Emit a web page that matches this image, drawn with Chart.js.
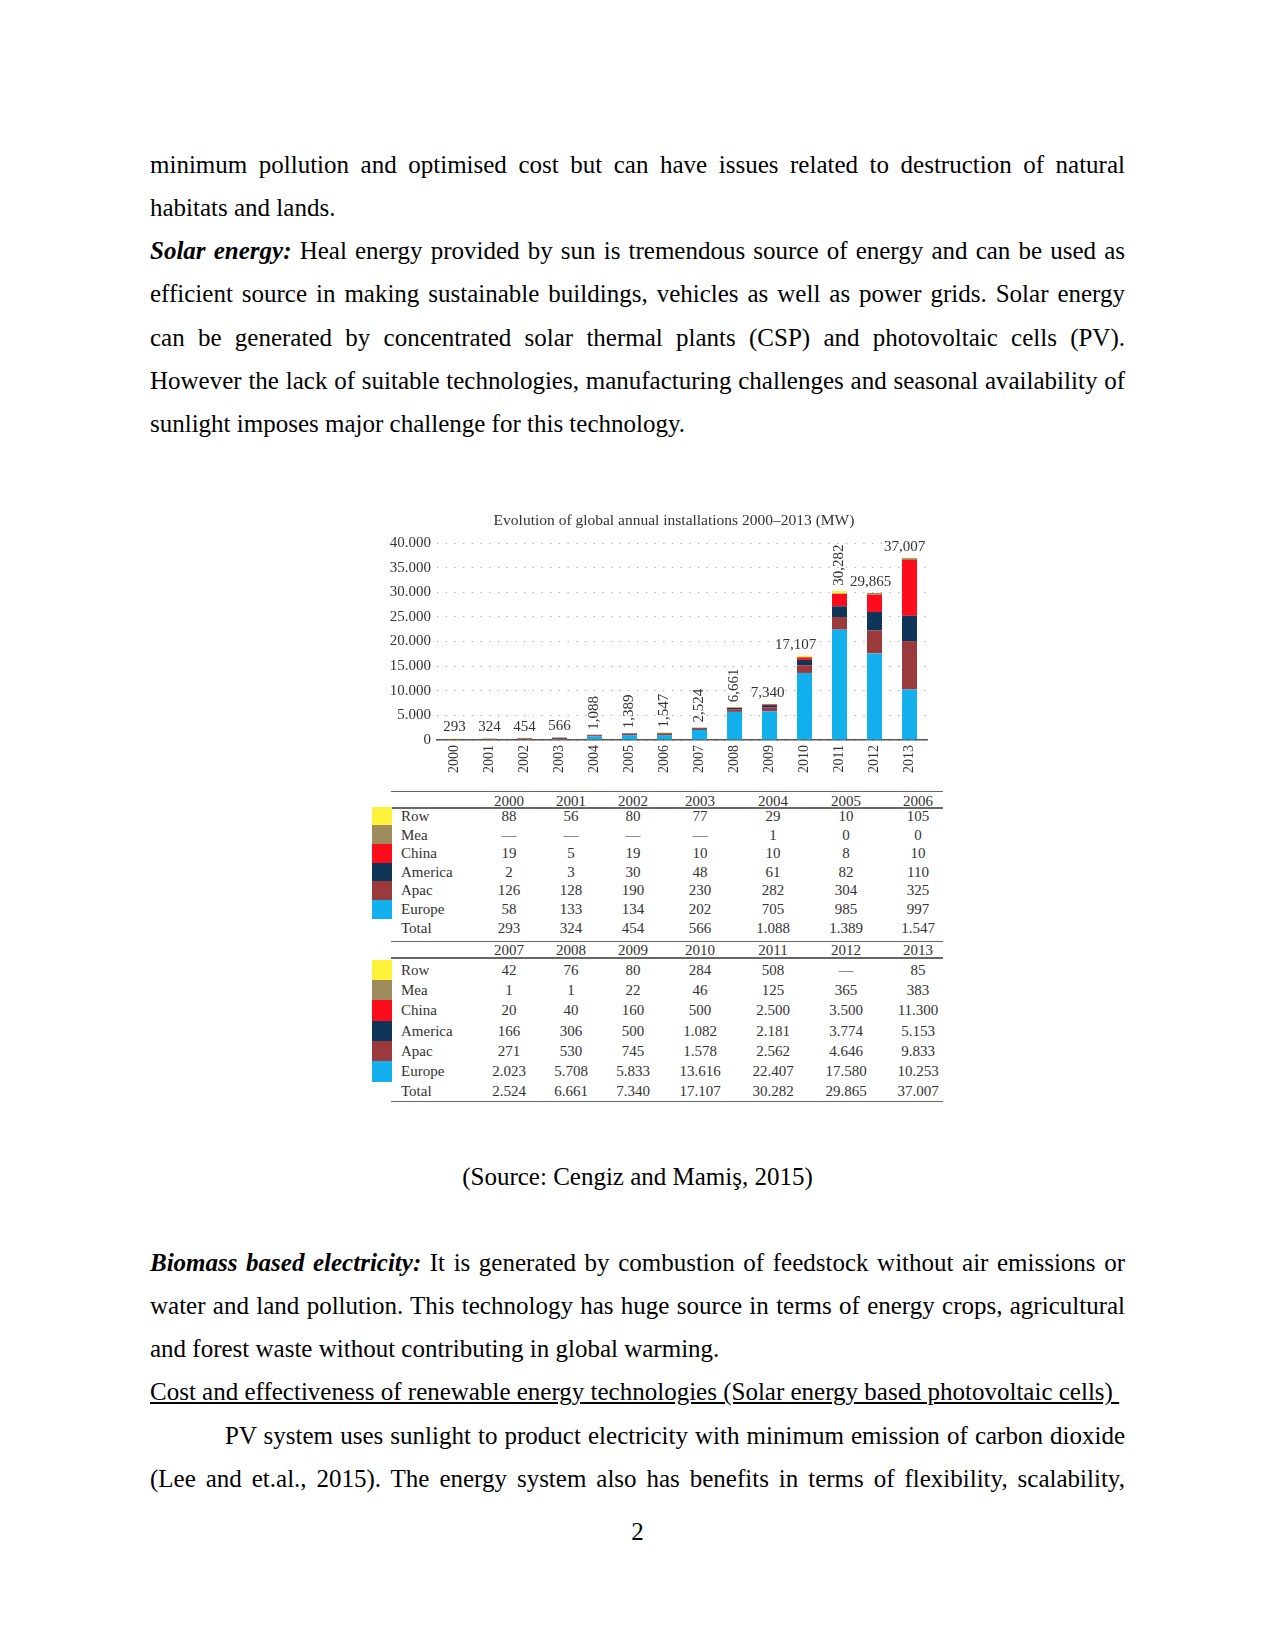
<!DOCTYPE html>
<html>
<head>
<meta charset="utf-8">
<script src="https://cdn.jsdelivr.net/npm/chart.js@4.4.0/dist/chart.umd.min.js"></script>
<style>
  body { margin: 0; background: #fff; }
  #page { position: relative; width: 1275px; height: 1651px; background: #fff; font-family: "Liberation Serif", "Times New Roman", serif; color: #000; }
  .txt { position: absolute; left: 150px; width: 975px; font-size: 25px; line-height: 43.17px; }
  .ln { height: 43.17px; white-space: nowrap; }
  .j { text-align: justify; text-align-last: justify; white-space: normal; }
  .cap { position: absolute; left: 0; width: 1275px; text-align: center; font-size: 25px; line-height: 43.17px; }
  #grafic { position: absolute; left: 374px; top: 505px; }
  .cell { position: absolute; font-size: 15px; color: #333; line-height: 16px; white-space: nowrap; }
  .rule { position: absolute; left: 391px; width: 552px; background: #666; }
  .sw { position: absolute; left: 372px; width: 20px; }
</style>
</head>
<body>
<div id="page">
  <div class="txt" style="top:143px">
    <div class="ln j">minimum pollution and optimised cost but can have issues related to destruction of natural</div>
    <div class="ln">habitats and lands.</div>
    <div class="ln j"><b><i>Solar energy:</i></b> Heal energy provided by sun is tremendous source of energy and can be used as</div>
    <div class="ln j">efficient source in making sustainable buildings, vehicles as well as power grids. Solar energy</div>
    <div class="ln j">can be generated by concentrated solar thermal plants (CSP) and photovoltaic cells (PV).</div>
    <div class="ln j">However the lack of suitable technologies, manufacturing challenges and seasonal availability of</div>
    <div class="ln">sunlight imposes major challenge for this technology.</div>
  </div>

  <canvas id="grafic" width="570" height="285"></canvas>
  <div id="tabela"></div>

  <div class="cap" style="top:1155px">(Source: Cengiz and Mamiş, 2015)</div>

  <div class="txt" style="top:1241px">
    <div class="ln j"><b><i>Biomass based electricity:</i></b> It is generated by combustion of feedstock without air emissions or</div>
    <div class="ln j">water and land pollution. This technology has huge source in terms of energy crops, agricultural</div>
    <div class="ln">and forest waste without contributing in global warming.</div>
    <div class="ln"><u>Cost and effectiveness of renewable energy technologies (Solar energy based photovoltaic cells)&nbsp;</u></div>
    <div class="ln j" style="padding-left:75px">PV system uses sunlight to product electricity with minimum emission of carbon dioxide</div>
    <div class="ln j">(Lee and et.al., 2015). The energy system also has benefits in terms of flexibility, scalability,</div>
  </div>

  <div class="cap" style="top:1510px">2</div>
</div>

<script>
// dados (MW)
const anos = ['2000','2001','2002','2003','2004','2005','2006','2007','2008','2009','2010','2011','2012','2013']
const row     = [88, 56, 80, 77, 29, 10, 105, 42, 76, 80, 284, 508, null, 85]
const mea     = [null, null, null, null, 1, 0, 0, 1, 1, 22, 46, 125, 365, 383]
const china   = [19, 5, 19, 10, 10, 8, 10, 20, 40, 160, 500, 2500, 3500, 11300]
const america = [2, 3, 30, 48, 61, 82, 110, 166, 306, 500, 1082, 2181, 3774, 5153]
const apac    = [126, 128, 190, 230, 282, 304, 325, 271, 530, 745, 1578, 2562, 4646, 9833]
const europe  = [58, 133, 134, 202, 705, 985, 997, 2023, 5708, 5833, 13616, 22407, 17580, 10253]
const totais  = [293, 324, 454, 566, 1088, 1389, 1547, 2524, 6661, 7340, 17107, 30282, 29865, 37007]
const yTicks  = [0, 5000, 10000, 15000, 20000, 25000, 30000, 35000, 40000]
const titulo  = 'Evolution of global annual installations 2000–2013 (MW)'

const cores = {
    Row: '#fff23a', Mea: '#9e8b5c', China: '#fd0d1b',
    America: '#0f3659', Apac: '#9b3a3d', Europe: '#12b0ec'
}

// como cada total aparece sobre a barra: h = horizontal, r = vertical
const rotuloModo = ['h','h','h','h','r','r','r','r','r','h','h','r','h','h']
const rotuloDx   = [0, 0, 0, 0, 0, 0, 0, 0, 0, -2, -9, 0, -4, -5]

const fonte = '"Liberation Serif", "Times New Roman", serif'

function milPonto(n) {
    if (n === null) return '—'
    return String(n).replace(/\B(?=(\d{3})+(?!\d))/g, '.')
}
function milVirgula(n) {
    return String(n).replace(/\B(?=(\d{3})+(?!\d))/g, ',')
}

/* --------- título e rótulos dos totais --------- */
const rotulosTotais = {
    id: 'rotulosTotais',
    afterDatasetsDraw(chart) {
        const ctx = chart.ctx
        const xs = chart.scales.x, ys = chart.scales.y
        const area = chart.chartArea
        ctx.save()
        ctx.fillStyle = '#333'

        // título (um pouco à esquerda do centro da área, como no original)
        ctx.font = '15.5px ' + fonte
        ctx.textAlign = 'center'
        ctx.textBaseline = 'middle'
        ctx.fillText(titulo, (area.left + area.right) / 2 - 8, 16)

        ctx.font = '15px ' + fonte
        totais.forEach((t, i) => {
            const x = xs.getPixelForValue(i) + rotuloDx[i]
            const topo = ys.getPixelForValue(t)
            if (rotuloModo[i] === 'r') {
                ctx.save()
                ctx.translate(x, topo - 5)
                ctx.rotate(-Math.PI / 2)
                ctx.textAlign = 'left'
                ctx.textBaseline = 'middle'
                ctx.fillText(milVirgula(t), 0, 0)
                ctx.restore()
            } else {
                ctx.textAlign = 'center'
                ctx.textBaseline = 'middle'
                ctx.fillText(milVirgula(t), x, topo - 11)
            }
        })
        ctx.restore()
    }
}

/* --------- gráfico --------- */
function criarGrafico() {
    const ctx = document.getElementById('grafic').getContext('2d')
    Chart.defaults.font.family = fonte
    Chart.defaults.color = '#333'

    const series = [
        ['Europe', europe], ['Apac', apac], ['America', america],
        ['China', china], ['Mea', mea], ['Row', row]
    ]

    new Chart(ctx, {
        type: 'bar',
        data: {
            labels: anos,
            datasets: series.map(([nome, v]) => ({
                label: nome,
                data: v,
                backgroundColor: cores[nome],
                borderWidth: 0,
                barPercentage: 0.43,
                categoryPercentage: 1.0
            }))
        },
        options: {
            responsive: false,
            animation: false,
            layout: { padding: { left: 0, right: 17, top: 38, bottom: 0 } },
            plugins: {
                legend: { display: false },
                tooltip: { enabled: false },
                title: { display: false }
            },
            scales: {
                x: {
                    stacked: true,
                    grid: { display: false, drawTicks: false },
                    border: { display: true, color: '#555', width: 1.5 },
                    ticks: { minRotation: 90, maxRotation: 90, padding: 5, font: { size: 14 }, color: '#333' },
                    afterFit: (s) => { s.height = 50 }
                },
                y: {
                    stacked: true,
                    min: 0,
                    max: 40000,
                    afterBuildTicks: (s) => { s.ticks = yTicks.map(v => ({ value: v })) },
                    grid: { color: '#aaa', lineWidth: 1, drawTicks: false },
                    border: { display: false, dash: [1.3, 7.4] },
                    ticks: {
                        padding: 6,
                        font: { size: 15 },
                        color: '#333',
                        callback: (v) => milPonto(v)
                    },
                    afterFit: (s) => { s.width = 63 }
                }
            }
        },
        plugins: [rotulosTotais]
    })
}

/* --------- tabela --------- */
const colX = [509, 571, 633, 700, 773, 846, 918]   // centros das colunas
const linhasTabela = [
    ['Row', row], ['Mea', mea], ['China', china], ['America', america],
    ['Apac', apac], ['Europe', europe], ['Total', totais]
]

function criarTabela() {
    const tab = document.getElementById('tabela')
    const blocos = [
        { ini: 0, topo: 791, cab: 801, regua: 807, y0: 816, passo: 18.6 },
        { ini: 7, topo: 941, cab: 950, regua: 957, y0: 970, passo: 20.2 }
    ]
    let html = ''
    const cel = (txt, cx, cy, alinha) => {
        if (alinha === 'l')
            return `<div class="cell" style="left:${cx}px;top:${cy - 8}px">${txt}</div>`
        return `<div class="cell" style="left:${cx - 40}px;width:80px;text-align:center;top:${cy - 8}px">${txt}</div>`
    }
    blocos.forEach(b => {
        html += `<div class="rule" style="top:${b.topo}px;height:1px"></div>`
        html += `<div class="rule" style="top:${b.regua}px;height:1.5px"></div>`
        for (let c = 0; c < 7; c++) html += cel(anos[b.ini + c], colX[c], b.cab)
        linhasTabela.forEach(([nome, v], r) => {
            const y = b.y0 + r * b.passo
            if (cores[nome]) {
                html += `<div class="sw" style="top:${y - b.passo / 2}px;height:${b.passo + 0.5}px;background:${cores[nome]}"></div>`
            }
            html += cel(nome, 401, y, 'l')
            for (let c = 0; c < 7; c++) html += cel(milPonto(v[b.ini + c]), colX[c], y)
        })
    })
    html += `<div class="rule" style="top:1101px;height:1px"></div>`
    tab.innerHTML = html
}

criarGrafico()
criarTabela()
</script>
</body>
</html>
